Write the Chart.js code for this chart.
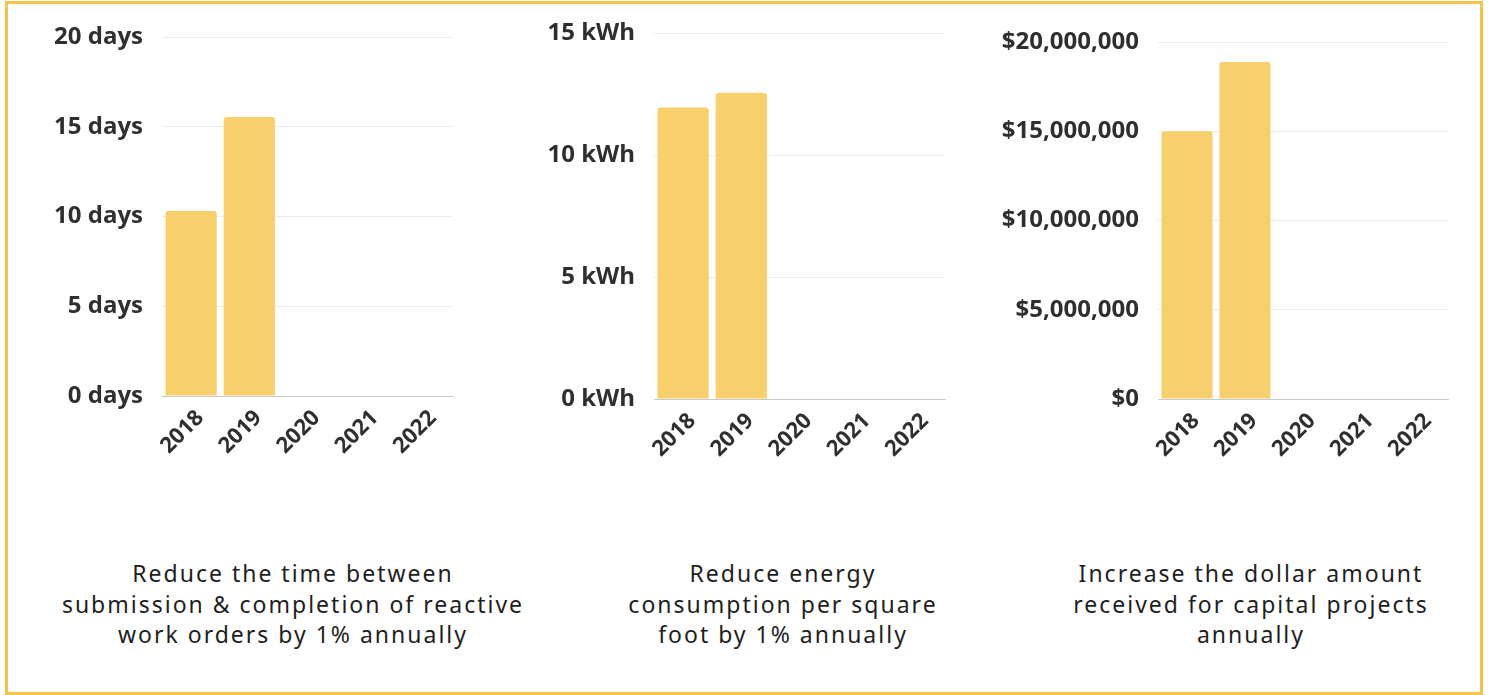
<!DOCTYPE html>
<html>
<head>
<meta charset="utf-8">
<script src="https://cdn.jsdelivr.net/npm/chart.js@4"></script>
<style>
  html, body { margin: 0; padding: 0; background: #fff; }
  body { width: 1489px; height: 695px; position: relative; overflow: hidden; }
  .frame { position: absolute; left: 5px; top: 1px; width: 1472px; height: 688px; border: 3px solid #F5C24B; }
  .box { position: absolute; top: 10px; height: 470px; }
  .caption {
    position: absolute; top: 558px; width: 500px; text-align: center;
    font-family: "Noto Sans", sans-serif; font-size: 23px; line-height: 30.5px;
    color: #1e1e1e; letter-spacing: 2px;
  }
</style>
</head>
<body>
<div class="frame"></div>
<div class="box" style="left:10px;width:460px"><canvas id="c1"></canvas></div>
<div class="box" style="left:490px;width:470px"><canvas id="c2"></canvas></div>
<div class="box" style="left:975px;width:490px"><canvas id="c3"></canvas></div>
<div class="caption" style="left:43px">Reduce the time between<br>submission &amp; completion of reactive<br>work orders by 1% annually</div>
<div class="caption" style="left:533px">Reduce energy<br>consumption per square<br>foot by 1% annually</div>
<div class="caption" style="left:1001px">Increase the dollar amount<br>received for capital projects<br>annually</div>
<script>
// years shared by all three panels
const years = ['2018', '2019', '2020', '2021', '2022'];

// values (no data yet for 2020-2022)
const workOrderDays = [10.3, 15.55, null, null, null];
const energyKwh = [11.95, 12.55, null, null, null];
const capitalDollars = [15000000, 18880000, null, null, null];

const barColor = '#F7CF6C';
const tickFont = { family: '"Open Sans", sans-serif', size: 24, weight: 'bold' };
const yearFont = { family: '"Open Sans", sans-serif', size: 22, weight: 'bold' };

function makeChart(id, values, max, step, fmt, yWidth, pad) {
    const ctx = document.getElementById(id).getContext('2d');
    return new Chart(ctx, {
        type: 'bar',
        data: {
            labels: years,
            datasets: [{
                data: values,
                backgroundColor: barColor,
                borderRadius: { topLeft: 3, topRight: 3 },
                borderSkipped: 'bottom',
                categoryPercentage: 1,
                barPercentage: 0.88
            }]
        },
        options: {
            responsive: true,
            maintainAspectRatio: false,
            animation: false,
            layout: { padding: { top: pad.top, right: pad.right, left: 0, bottom: 0 } },
            plugins: { legend: { display: false }, tooltip: { enabled: false } },
            scales: {
                x: {
                    grid: { display: false, drawTicks: false },
                    border: { display: true, color: '#c9c9c9', width: 1 },
                    ticks: {
                        color: '#2f2f2f', font: yearFont,
                        minRotation: 45, maxRotation: 45, padding: 9, labelOffset: 9
                    },
                    afterFit: s => { s.height = pad.bottom; }
                },
                y: {
                    min: 0, max: max,
                    // tick marks kept invisible so they only push the labels away from the plot
                    grid: { color: '#ececec', lineWidth: 1, drawTicks: true, tickLength: 19, tickColor: 'rgba(0,0,0,0)' },
                    border: { display: false },
                    ticks: {
                        stepSize: step, color: '#2f2f2f', font: tickFont, padding: 0,
                        callback: v => fmt(v)
                    },
                    afterFit: s => { s.width = yWidth; }
                }
            }
        }
    });
}

makeChart('c1', workOrderDays, 20, 5, v => v + ' days', 152, { top: 27, right: 17, bottom: 84 });
makeChart('c2', energyKwh, 15, 5, v => v + ' kWh', 164, { top: 23, right: 15, bottom: 81 });
makeChart('c3', capitalDollars, 20000000, 5000000,
    v => '$' + v.toLocaleString('en-US'), 183, { top: 32, right: 17, bottom: 81 });
</script>
</body>
</html>
